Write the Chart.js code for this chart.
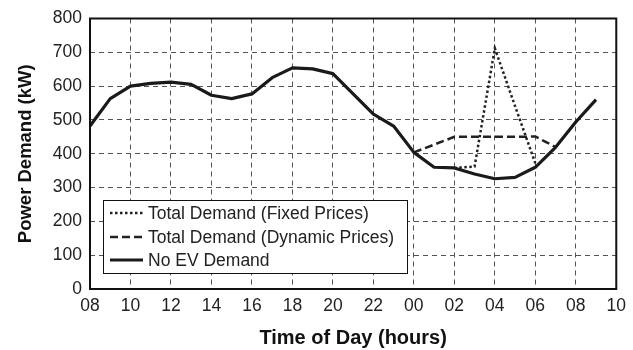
<!DOCTYPE html>
<html>
<head>
<meta charset="utf-8">
<script src="https://cdn.jsdelivr.net/npm/chart.js@4/dist/chart.umd.min.js"></script>
<style>
  html, body { margin: 0; padding: 0; background: #fff; }
  #wrap { width: 633px; height: 350px; }
</style>
</head>
<body>
<div id="wrap"><canvas id="c"></canvas></div>
<script>
// Hour of day (08:00 through 09:00 the next morning, continuous hours)
const hours = [8, 9, 10, 11, 12, 13, 14, 15, 16, 17, 18, 19, 20, 21, 22, 23,
               24, 25, 26, 27, 28, 29, 30, 31, 32, 33];

// Base load without electric vehicles (kW)
const noEvDemand = [482, 563, 600, 608, 612, 605, 573, 563, 577, 625, 654, 651, 637, 577, 517, 482,
                    404, 360, 358, 340, 326, 330, 360, 419, 494, 560];

// Total demand when charging under fixed prices (kW)
const fixedDemand = [null, null, null, null, null, null, null, null, null, null, null, null, null, null, null, null,
                     null, null, 358, 362, 712, 541, 372, null, null, null];

// Total demand when charging under dynamic prices (kW)
const dynamicDemand = [null, null, null, null, null, null, null, null, null, null, null, null, null, null, null, null,
                       404, 427, 450, 450, 450, 450, 451, 420, null, null];

const seriesLabels = ['Total Demand (Fixed Prices)', 'Total Demand (Dynamic Prices)', 'No EV Demand'];
const xTickHours = [8, 10, 12, 14, 16, 18, 20, 22, 24, 26, 28, 30, 32, 34];
const yTicks = [0, 100, 200, 300, 400, 500, 600, 700, 800];

const FONT = "'Liberation Sans', Arial, Helvetica, sans-serif";
const toPoints = (vals) => hours.map((h, i) => ({ x: h, y: vals[i] }));

// Legend box drawn inside the plot area, lower left
const innerLegend = {
  id: 'innerLegend',
  afterDraw(chart) {
    const { ctx, chartArea } = chart;
    const x0 = chartArea.left + 13;
    const w = 304;
    const h = 73;
    const y0 = chartArea.bottom - 16 - h;
    ctx.save();
    ctx.fillStyle = '#fff';
    ctx.fillRect(x0, y0, w, h);
    ctx.strokeStyle = '#111';
    ctx.lineWidth = 1;
    ctx.setLineDash([]);
    ctx.strokeRect(x0 + 0.5, y0 + 0.5, w, h);
    ctx.font = '17.5px ' + FONT;
    ctx.textBaseline = 'middle';
    ctx.fillStyle = '#222';
    const rows = [13, 37, 60];
    chart.data.datasets.forEach((ds, i) => {
      const y = y0 + rows[i];
      ctx.beginPath();
      ctx.strokeStyle = ds.borderColor;
      ctx.lineWidth = ds.borderWidth;
      ctx.setLineDash(ds.borderDash || []);
      ctx.moveTo(x0 + 7, y);
      ctx.lineTo(x0 + 40, y);
      ctx.stroke();
      ctx.setLineDash([]);
      ctx.fillText(ds.label, x0 + 45, y + 1);
    });
    ctx.restore();
  }
};

// Solid frame around the plot area
const plotFrame = {
  id: 'plotFrame',
  afterDatasetsDraw(chart) {
    const { ctx, chartArea } = chart;
    ctx.save();
    ctx.strokeStyle = '#111';
    ctx.lineWidth = 2;
    ctx.setLineDash([]);
    ctx.strokeRect(chartArea.left, chartArea.top, chartArea.right - chartArea.left, chartArea.bottom - chartArea.top);
    ctx.restore();
  }
};

new Chart(document.getElementById('c'), {
  type: 'line',
  data: {
    datasets: [
      {
        label: seriesLabels[0],
        data: toPoints(fixedDemand),
        borderColor: '#222',
        borderWidth: 2.5,
        borderDash: [2.5, 2.5],
        pointRadius: 0,
        tension: 0,
        order: 2
      },
      {
        label: seriesLabels[1],
        data: toPoints(dynamicDemand),
        borderColor: '#222',
        borderWidth: 2.5,
        borderDash: [8, 4],
        pointRadius: 0,
        tension: 0,
        order: 1
      },
      {
        label: seriesLabels[2],
        data: toPoints(noEvDemand),
        borderColor: '#1a1a1a',
        borderWidth: 3.2,
        pointRadius: 0,
        tension: 0,
        borderJoinStyle: 'round',
        order: 0
      }
    ]
  },
  options: {
    responsive: true,
    maintainAspectRatio: false,
    animation: false,
    layout: { padding: { top: 17, right: 10, left: 0, bottom: 0 } },
    plugins: {
      legend: { display: false },
      tooltip: { enabled: false }
    },
    scales: {
      x: {
        type: 'linear',
        min: 8,
        max: 34,
        afterBuildTicks(scale) {
          scale.ticks = xTickHours.map(v => ({ value: v }));
        },
        afterFit(scale) { scale.height = 61; },
        ticks: {
          padding: 7,
          color: '#222',
          font: { family: FONT, size: 17.5 },
          maxRotation: 0,
          autoSkip: false,
          callback: (v) => String(v % 24).padStart(2, '0')
        },
        grid: {
          color: '#555',
          lineWidth: 1,
          drawTicks: false
        },
        border: { display: false, dash: [5, 4] },
        title: {
          display: true,
          text: 'Time of Day (hours)',
          color: '#111',
          font: { family: FONT, size: 20, weight: 'bold' },
          padding: { top: 0, bottom: 0 }
        }
      },
      y: {
        min: 0,
        max: 800,
        afterBuildTicks(scale) {
          scale.ticks = yTicks.map(v => ({ value: v }));
        },
        afterFit(scale) { scale.width = 90; },
        ticks: {
          padding: 8,
          color: '#222',
          font: { family: FONT, size: 17.5 }
        },
        grid: {
          color: '#555',
          lineWidth: 1,
          drawTicks: false
        },
        border: { display: false, dash: [5, 4] },
        title: {
          display: true,
          text: 'Power Demand (kW)',
          color: '#111',
          font: { family: FONT, size: 18.5, weight: 'bold' },
          padding: { top: 15, bottom: 0 }
        }
      }
    }
  },
  plugins: [plotFrame, innerLegend]
});
</script>
</body>
</html>
